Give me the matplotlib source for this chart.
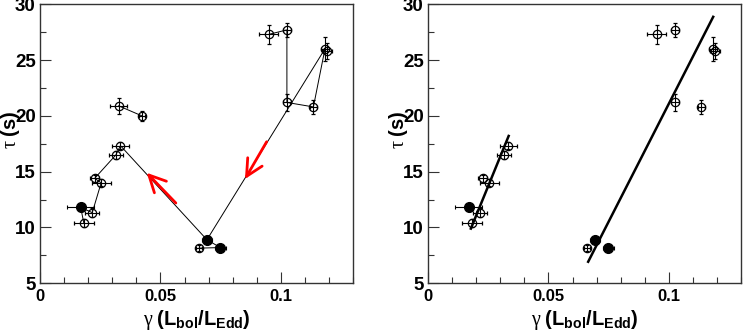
import numpy as np
import matplotlib
matplotlib.use('Agg')
import matplotlib.pyplot as plt
from matplotlib.ticker import MultipleLocator

plt.rcParams['font.family'] = ['Liberation Sans', 'DejaVu Sans']
plt.rcParams['mathtext.fontset'] = 'custom'
plt.rcParams['mathtext.rm'] = 'Liberation Serif'
plt.rcParams['mathtext.it'] = 'Liberation Serif:italic'
plt.rcParams['mathtext.bf'] = 'Liberation Sans:bold'

# burst measurements: gamma, tau, errors, filled flag
gamma = [0.0950, 0.1025, 0.1183, 0.1192, 0.1025, 0.1135, 0.0326, 0.0423, 0.0334,
         0.0315, 0.0227, 0.0254, 0.0169, 0.0217, 0.0182, 0.0693, 0.0660, 0.0749]
tau = [27.3, 27.7, 26.0, 25.8, 21.2, 20.8, 20.9, 20.0, 17.33,
       16.5, 14.4, 14.0, 11.8, 11.33, 10.4, 8.9, 8.15, 8.2]
gamma_err = [0.0040, 0.0017, 0.0015, 0.0020, 0.0015, 0.0015, 0.0037, 0.0013, 0.0036,
             0.0030, 0.0018, 0.0040, 0.0055, 0.0030, 0.0042, 0.0020, 0.0012, 0.0022]
tau_err = [0.85, 0.65, 1.05, 0.75, 0.8, 0.65, 0.7, 0.45, 0.3,
           0.35, 0.3, 0.3, 0.3, 0.4, 0.35, 0.25, 0.25, 0.2]
filled = [0, 0, 0, 0, 0, 0, 0, 0, 0, 0, 0, 0, 1, 0, 0, 1, 0, 1]
right_skip = [6, 7]  # not shown in the right panel

# connecting tracks (indices into the point arrays)
tracks = [[6, 7],
          [0, 1, 4, 5, 2, 15, 8, 9, 10, 11, 13, 12, 14],
          [15, 17, 16]]

# direction arrows (tail -> head)
arrows = [((0.0564, 12.19), (0.0443, 14.9)),
          ((0.0941, 17.68), (0.0851, 14.34))]

# linear fits in the right panel
fit1_x = [0.0178, 0.0335]
fit1_y = [9.9, 18.2]
fit2_x = [0.0665, 0.1184]
fit2_y = [6.93, 28.87]

gamma = np.array(gamma)
tau = np.array(tau)
gamma_err = np.array(gamma_err)
tau_err = np.array(tau_err)
filled = np.array(filled, dtype=bool)

fig = plt.figure(figsize=(7.43, 3.32), dpi=100)
ax1 = fig.add_axes([0.0538, 0.1467, 0.4215, 0.8406])
ax2 = fig.add_axes([0.576, 0.1467, 0.4215, 0.8406])


def draw_points(ax, idx):
    idx = np.array(idx)
    op = idx[~filled[idx]]
    fl = idx[filled[idx]]
    ax.errorbar(gamma[op], tau[op], xerr=gamma_err[op], yerr=tau_err[op], fmt='o',
                ms=6, mfc='none', mec='black', mew=0.9, ecolor='black',
                elinewidth=0.8, capsize=1.5, capthick=0.8, zorder=3)
    ax.errorbar(gamma[fl], tau[fl], xerr=gamma_err[fl], yerr=tau_err[fl], fmt='o',
                ms=7, mfc='black', mec='black', ecolor='black',
                elinewidth=0.8, capsize=1.5, capthick=0.8, zorder=4)


def style(ax):
    ax.set_xlim(0, 0.13)
    ax.set_ylim(5, 30)
    ax.xaxis.set_minor_locator(MultipleLocator(0.01))
    ax.yaxis.set_major_locator(MultipleLocator(5))
    ax.yaxis.set_minor_locator(MultipleLocator(2.5))
    ax.set_xticks([0, 0.05, 0.1])
    ax.set_xticklabels(['0', '0.05', '0.1'])
    ax.tick_params(which='both', direction='in', top=False, right=False,
                   color='#333333', width=0.8)
    ax.tick_params(which='major', length=8)
    ax.tick_params(which='minor', length=4)
    ax.tick_params(axis='x', pad=4, labelsize=12)
    ax.tick_params(axis='y', pad=3, labelsize=13.5)
    for lab in ax.get_xticklabels() + ax.get_yticklabels():
        lab.set_fontweight('bold')
    for sp in ax.spines.values():
        sp.set_color('#333333')
        sp.set_linewidth(1.0)
    ax.set_xlabel(r'$\mathrm{\gamma}\ \mathbf{(L_{bol}/L_{Edd})}$', fontsize=14.5, labelpad=3)
    ax.set_ylabel(r'$\mathrm{\tau}\ \mathbf{(s)}$', fontsize=14.5)
    ax.yaxis.set_label_coords(-0.058, 0.55)


# left panel: tracks and arrows
for tr in tracks:
    ax1.plot(gamma[tr], tau[tr], color='black', lw=0.7, zorder=2)
for tail, head in arrows:
    ax1.annotate('', xy=head, xytext=tail,
                 arrowprops=dict(arrowstyle='->,head_length=1.2,head_width=0.6',
                                 color='red', lw=2, mutation_scale=10,
                                 shrinkA=0, shrinkB=0), zorder=5)
draw_points(ax1, range(len(gamma)))
style(ax1)

# right panel: points and fits
draw_points(ax2, [i for i in range(len(gamma)) if i not in right_skip])
ax2.plot(fit1_x, fit1_y, color='black', lw=1.8, zorder=2)
ax2.plot(fit2_x, fit2_y, color='black', lw=1.8, zorder=2)
style(ax2)

fig.savefig('out.png', dpi=100)
